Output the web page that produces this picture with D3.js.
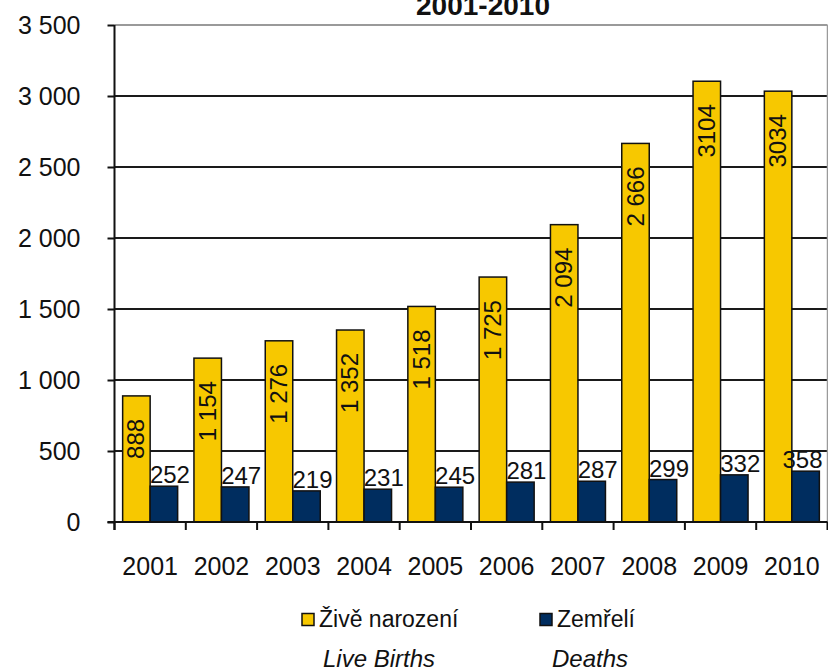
<!DOCTYPE html>
<html>
<head>
<meta charset="utf-8">
<script src="https://cdn.jsdelivr.net/npm/d3@7"></script>
<style>
  html, body { margin: 0; padding: 0; background: #fff; }
  svg { display: block; font-family: "Liberation Sans", Arial, sans-serif; }
</style>
</head>
<body>
<svg id="chart" width="828" height="671"></svg>
<script>
// ---- data ----
const years = ["2001","2002","2003","2004","2005","2006","2007","2008","2009","2010"];
const liveBirths = [888, 1154, 1276, 1352, 1518, 1725, 2094, 2666, 3104, 3034];
const deaths = [252, 247, 219, 231, 245, 281, 287, 299, 332, 358];
const birthLabels = ["888","1 154","1 276","1 352","1 518","1 725","2 094","2 666","3104","3034"];
const deathLabels = ["252","247","219","231","245","281","287","299","332","358"];
const yTicks = [0, 500, 1000, 1500, 2000, 2500, 3000, 3500];
const titleText = "2001-2010";
const legendCz = ["Živě narození", "Zemřelí"];
const legendEn = ["Live Births", "Deaths"];

(function () {
const YELLOW = "#F7C800", NAVY = "#002D5F";

const svg = d3.select("#chart");
const pLeft = 114.5, pRight = 827.5, pTop = 25, pBottom = 522;

const x = d3.scaleBand().domain(years).range([pLeft, pRight]).padding(0);
const bw = x.bandwidth();
const xs = d3.scaleBand().domain(["b","d"]).range([bw/2 - 27.5, bw/2 + 27.5]).padding(0);
const y = d3.scaleLinear().domain([0, 3500]).range([pBottom, pTop]);

const locale = d3.formatLocale({decimal: ",", thousands: " ", grouping: [3], currency: ["", ""]});
const fmt = locale.format(",d");

// gridlines
svg.append("g").selectAll("line").data(yTicks.filter(t => t > 0)).join("line")
  .attr("x1", pLeft).attr("x2", pRight)
  .attr("y1", d => y(d)).attr("y2", d => y(d))
  .attr("stroke", d => d === 3500 ? "#9a9a9a" : "#1a1a1a")
  .attr("stroke-width", 2);
// right border
svg.append("line").attr("x1", pRight).attr("x2", pRight).attr("y1", y(3500)).attr("y2", y(0))
  .attr("stroke", "#9a9a9a").attr("stroke-width", 1.5);

// bars
const g = svg.append("g");
g.selectAll("rect.b").data(years).join("rect").attr("class","b")
  .attr("x", (d) => x(d) + xs("b")).attr("width", xs.bandwidth())
  .attr("y", (d,i) => y(liveBirths[i])).attr("height", (d,i) => y(0) - y(liveBirths[i]))
  .attr("fill", YELLOW).attr("stroke", "#111").attr("stroke-width", 1.5);
g.selectAll("rect.d").data(years).join("rect").attr("class","d")
  .attr("x", (d) => x(d) + xs("d")).attr("width", xs.bandwidth())
  .attr("y", (d,i) => y(deaths[i])).attr("height", (d,i) => y(0) - y(deaths[i]))
  .attr("fill", NAVY).attr("stroke", "#111").attr("stroke-width", 1.5);

// y axis
const yAxis = svg.append("g").attr("transform", `translate(${pLeft},0)`)
  .call(d3.axisLeft(y).tickValues(yTicks).tickFormat(fmt).tickSize(7).tickPadding(27));
yAxis.select(".domain").attr("stroke", "#111").attr("stroke-width", 2).attr("d", `M0,${pTop}V${pBottom + 8}`);
yAxis.selectAll(".tick line").attr("stroke", "#111").attr("stroke-width", 2);
yAxis.selectAll("text").attr("font-size", 25).attr("fill", "#111").attr("font-family", "Liberation Sans, Arial, sans-serif");

// x axis
const xAxis = svg.append("g").attr("transform", `translate(0,${pBottom})`)
  .call(d3.axisBottom(x).tickSize(0).tickPadding(35));
xAxis.select(".domain").attr("stroke", "#111").attr("stroke-width", 2).attr("d", `M${pLeft - 7},0H${pRight}`);
xAxis.selectAll("text").attr("font-size", 25).attr("fill", "#111").attr("font-family", "Liberation Sans, Arial, sans-serif");
xAxis.selectAll("line.bnd").data(years.map(d => x(d)).concat([x(years[years.length-1]) + bw]))
  .join("line").attr("class","bnd")
  .attr("x1", d => d).attr("x2", d => d).attr("y1", 0).attr("y2", 8)
  .attr("stroke", "#111").attr("stroke-width", 2);

// value labels: births (rotated, inside top)
g.selectAll("text.bl").data(years).join("text").attr("class","bl")
  .attr("transform", (d,i) => `translate(${x(d) + xs("b") + xs.bandwidth()/2 + 8},${y(liveBirths[i]) + 23}) rotate(-90)`)
  .attr("text-anchor", "end")
  .attr("font-size", 24).attr("fill", "#111")
  .text((d,i) => birthLabels[i]);
// deaths labels (above bars), kept inside the plot's right edge
g.selectAll("text.dl").data(years).join("text").attr("class","dl")
  .attr("y", (d,i) => y(deaths[i]) - 3)
  .attr("text-anchor", "middle")
  .attr("font-size", 24).attr("fill", "#111")
  .text((d,i) => deathLabels[i])
  .attr("x", function (d) {
    const cx = x(d) + xs("d") + xs.bandwidth()/2 + 6;
    const half = this.getComputedTextLength() / 2;
    return Math.min(cx, pRight - 5 - half);
  });

// title
svg.append("text").attr("x", 483).attr("y", 15).attr("text-anchor", "middle")
  .attr("font-size", 28).attr("font-weight", "bold").attr("fill", "#111").text(titleText);

// legend
const legColors = [YELLOW, NAVY];
const legX = [302, 540];
legendCz.forEach((t, i) => {
  svg.append("rect").attr("x", legX[i]).attr("y", 613.5).attr("width", 12).attr("height", 12)
    .attr("fill", legColors[i]).attr("stroke", "#111").attr("stroke-width", 1.5);
  svg.append("text").attr("x", legX[i] + 17).attr("y", 627).attr("font-size", 23).attr("fill", "#111").text(t);
  svg.append("text").attr("x", legX[i] + (i === 0 ? 21 : 12)).attr("y", 667).attr("font-size", 24)
    .attr("font-style", "italic").attr("fill", "#111").text(legendEn[i]);
});
})();
</script>
</body>
</html>
